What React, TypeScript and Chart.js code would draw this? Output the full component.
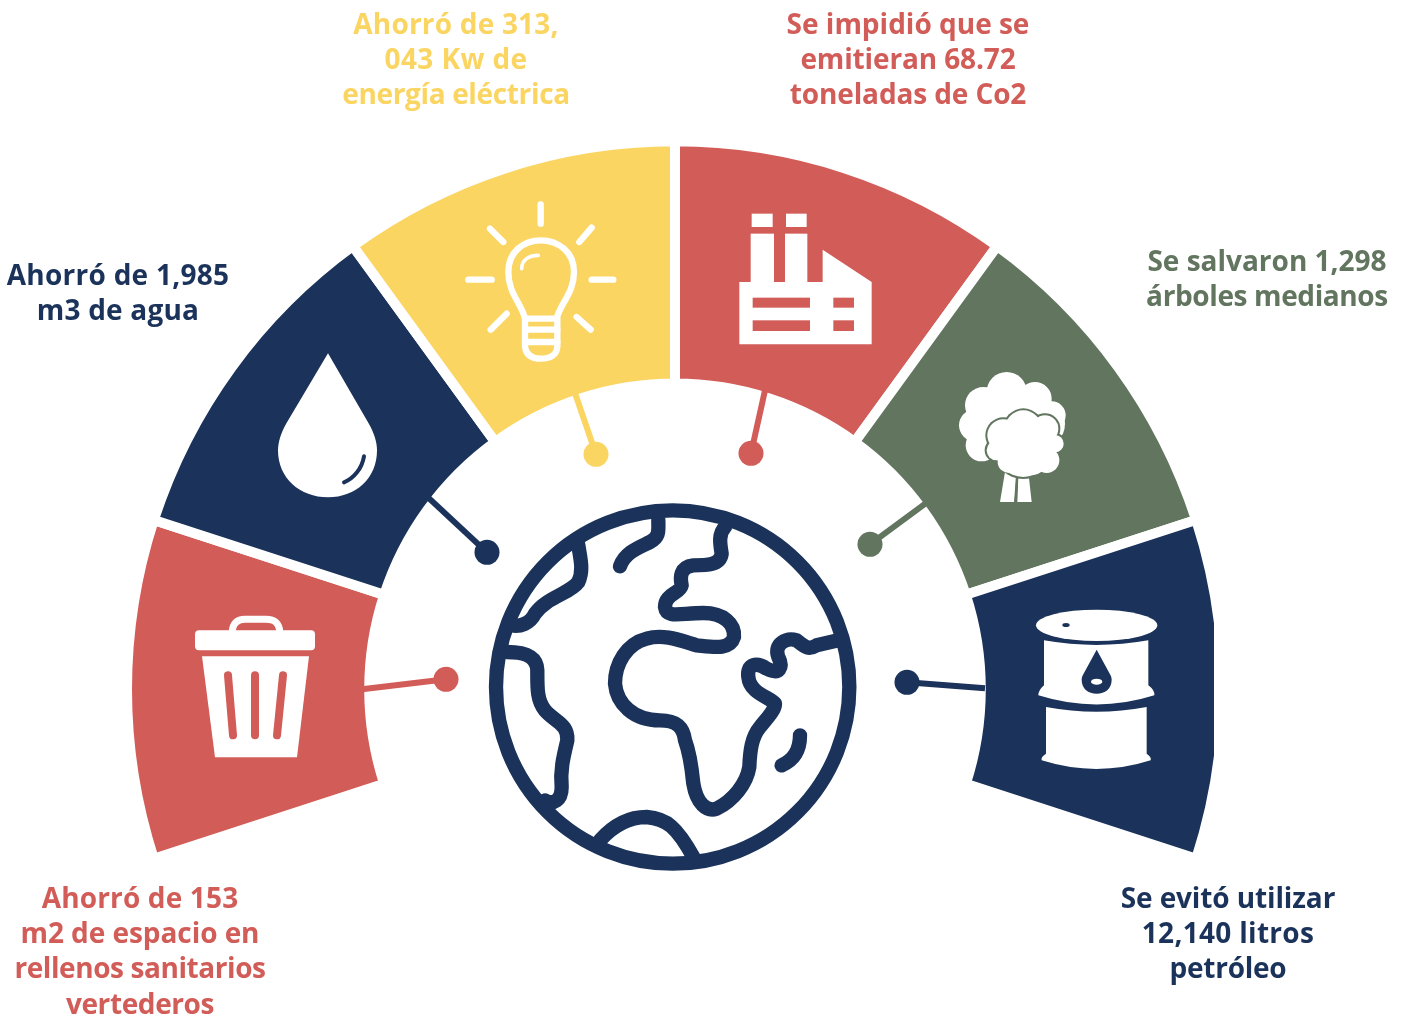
import React, { useEffect, useRef } from "react";
import { Chart, registerables } from "chart.js";

Chart.register(...registerables);

const segmentNames = ["Espacio en rellenos", "Agua", "Energía eléctrica", "Co2", "Árboles", "Petróleo"];
const segmentValues = [1, 1, 1, 1, 1, 1];
const RED = "#D25C58";
const NAVY = "#1B335A";
const YELLOW = "#FBD561";
const GREEN = "#61755F";
const segmentColors = [RED, NAVY, YELLOW, RED, GREEN, NAVY];

const labelLines = [
  ["Ahorró de 153", "m2 de espacio en", "rellenos sanitarios", "vertederos"],
  ["Ahorró de 1,985", "m3 de agua"],
  ["Ahorró de 313,", "043 Kw de", "energía eléctrica"],
  ["Se impidió que se", "emitieran 68.72", "toneladas de Co2"],
  ["Se salvaron 1,298", "árboles medianos"],
  ["Se evitó utilizar", "12,140 litros", "petróleo"],
];
const labelTracking = [
  [0.15, -0.06, -0.42, -0.4],
  [0.27, 0.2],
  [0.2, 0.4, -0.35],
  [0, -0.13, -0.12],
  [0, -0.38],
  [-0.12, 0.3, -0.25],
];
const labelCenters = [140, 118, 456, 908, 1267, 1228];
const labelTops = [880, 257, 6, 6, 243, 880];
const labelColors = [RED, NAVY, YELLOW, RED, GREEN, NAVY];

// connector start and dot end, in reference picture coordinates
const connectors = [
  [362, 689, 446, 679],
  [428, 497, 487, 552],
  [574, 390, 596, 454],
  [765, 390, 751, 453],
  [927, 502, 870, 544],
  [985, 688, 907, 682],
];

function line(ctx: CanvasRenderingContext2D, a: number, b: number, c: number, d: number) {
  ctx.beginPath();
  ctx.moveTo(a, b);
  ctx.lineTo(c, d);
  ctx.stroke();
}

function zoomed(ctx: CanvasRenderingContext2D, ox: number, oy: number, fn: () => void) {
  ctx.save();
  ctx.translate(ox, oy);
  ctx.scale(1 / 3, 1 / 3);
  fn();
  ctx.restore();
}

function drawGlobe(ctx: CanvasRenderingContext2D) {
  zoomed(ctx, 480, 490, () => {
    ctx.strokeStyle = NAVY;
    ctx.lineWidth = 43;
    ctx.lineCap = "round";
    ctx.lineJoin = "round";
    ctx.beginPath();
    ctx.arc(578, 590, 530, 0, Math.PI * 2);
    ctx.stroke();
    const paths = [
      "M295 165 C300 200 312 240 295 275 C270 310 200 320 165 370 C150 400 120 410 95 405",
      "M535 90 C535 120 540 140 510 155 C480 170 435 185 420 228",
      "M735 110 C715 130 720 160 725 190 C720 225 680 225 640 225 C600 230 600 260 605 285 C600 310 555 310 555 350 C560 385 600 368 670 368 C730 368 765 400 762 440 C750 480 700 470 650 465 C600 450 550 430 500 445 C440 460 405 520 405 580 C410 640 460 690 540 690 C590 690 610 710 615 750 C630 790 635 830 640 880 C650 940 680 965 710 955 C760 930 800 880 808 830 C810 780 815 740 840 710 C860 685 885 660 885 640 C870 620 810 610 805 560 C800 520 830 515 860 535 C900 555 910 530 895 500 C880 460 920 440 950 450 C975 470 985 480 1010 465 L1075 450",
      "M80 485 C120 485 170 490 172 540 C172 590 170 630 195 660 C225 695 265 700 262 750 C250 800 240 840 245 890 C245 930 220 945 195 930",
      "M905 825 C940 810 960 780 960 735",
      "M360 1050 C400 1005 450 980 500 980 C560 985 590 1010 640 1100",
    ];
    paths.forEach((p) => ctx.stroke(new Path2D(p)));
  });
}

function drawTrash(ctx: CanvasRenderingContext2D) {
  ctx.fillStyle = "#fff";
  ctx.beginPath();
  ctx.roundRect(195, 630, 120, 20, 4);
  ctx.fill();
  ctx.fill(new Path2D("M202 656 L309 656 L297 757 L215 757 Z"));
  ctx.strokeStyle = "#fff";
  ctx.lineWidth = 7;
  ctx.lineJoin = "round";
  ctx.stroke(new Path2D("M232 632 C233 622 238 619 245 619 L266 619 C274 619 279 622 280 632"));
  ctx.strokeStyle = RED;
  ctx.lineWidth = 8;
  ctx.lineCap = "round";
  line(ctx, 228, 675, 233, 735);
  line(ctx, 255, 675, 255, 735);
  line(ctx, 283, 675, 277, 735);
}

function drawDrop(ctx: CanvasRenderingContext2D) {
  ctx.fillStyle = "#fff";
  ctx.fill(new Path2D("M328 353 L287 422 C281 432 278 442 278 450 C278 478 300 497 328 497 C356 497 377 478 377 450 C377 442 374 432 368 422 Z"));
  ctx.strokeStyle = NAVY;
  ctx.lineWidth = 4;
  ctx.lineCap = "round";
  ctx.stroke(new Path2D("M364 456 C362 468 354 478 344 482"));
}

function drawBulb(ctx: CanvasRenderingContext2D) {
  zoomed(ctx, 450, 190, () => {
    ctx.strokeStyle = "#fff";
    ctx.lineWidth = 19;
    ctx.lineCap = "round";
    ctx.lineJoin = "round";
    [
      [272, 42, 272, 100],
      [120, 115, 160, 155],
      [425, 112, 388, 155],
      [55, 268, 125, 268],
      [425, 268, 490, 268],
      [170, 370, 122, 418],
      [380, 380, 422, 418],
    ].forEach((r) => line(ctx, r[0], r[1], r[2], r[3]));
    ctx.stroke(new Path2D("M225 385 C215 340 175 310 175 245 C175 185 220 150 272 150 C325 150 372 185 372 245 C372 310 330 340 320 385 Z"));
    ctx.stroke(new Path2D("M225 385 L225 470 Q230 505 272 505 Q318 505 322 470 L322 385"));
    line(ctx, 225, 418, 322, 418);
    line(ctx, 225, 455, 322, 455);
    ctx.lineWidth = 11;
    ctx.stroke(new Path2D("M215 235 C215 210 235 195 265 195"));
  });
}

function drawFactory(ctx: CanvasRenderingContext2D) {
  zoomed(ctx, 720, 200, () => {
    ctx.fillStyle = "#fff";
    ctx.fillRect(95, 40, 63, 40);
    ctx.fillRect(198, 40, 62, 40);
    ctx.fillRect(92, 100, 70, 145);
    ctx.fillRect(195, 100, 67, 145);
    ctx.fill(new Path2D("M58 245 L308 245 L308 148 L455 245 L455 432 L58 432 Z"));
    ctx.fillStyle = RED;
    ctx.fillRect(98, 292, 172, 30);
    ctx.fillRect(98, 360, 172, 32);
    ctx.fillRect(340, 292, 62, 30);
    ctx.fillRect(340, 360, 62, 32);
  });
}

function drawTree(ctx: CanvasRenderingContext2D) {
  const disc = (c: number[], extra: number) => {
    ctx.beginPath();
    ctx.arc(c[0], c[1], c[2] + extra, 0, Math.PI * 2);
    ctx.fill();
  };
  zoomed(ctx, 940, 360, () => {
    ctx.fillStyle = "#fff";
    [
      [200, 95, 60], [285, 115, 50], [335, 165, 42], [130, 135, 55], [105, 195, 48],
      [125, 255, 48], [200, 170, 105], [300, 190, 75],
    ].forEach((c) => disc(c, 0));
    ctx.fill(new Path2D("M195 335 L228 350 L222 425 L180 425 Z"));
    ctx.fill(new Path2D("M235 350 L265 335 L275 425 L232 425 Z"));
    const front = [
      [250, 205, 55], [190, 225, 48], [170, 270, 30], [315, 205, 40], [345, 250, 26],
      [320, 300, 38], [250, 265, 85], [205, 305, 32], [280, 305, 38],
    ];
    ctx.fillStyle = GREEN;
    front.forEach((c) => { if (c[1] < 280) disc(c, 6); });
    ctx.fillStyle = "#fff";
    front.forEach((c) => disc(c, 0));
    ctx.strokeStyle = GREEN;
    ctx.lineWidth = 6;
    line(ctx, 231, 350, 227, 425);
  });
}

function drawBarrel(ctx: CanvasRenderingContext2D) {
  zoomed(ctx, 1020, 590, () => {
    ctx.fillStyle = "#fff";
    ctx.beginPath();
    ctx.ellipse(230, 105, 182, 47, 0, 0, Math.PI * 2);
    ctx.fill();
    ctx.fill(new Path2D("M72 150 Q230 178 385 150 L385 285 Q405 300 403 315 Q230 370 55 315 Q55 300 72 285 Z"));
    ctx.fill(new Path2D("M78 350 Q230 378 380 350 L380 490 Q395 500 392 510 Q230 562 65 510 Q62 500 78 490 Z"));
    ctx.fillStyle = NAVY;
    ctx.beginPath();
    ctx.ellipse(138, 104, 11, 6, 0, 0, Math.PI * 2);
    ctx.fill();
    ctx.fill(new Path2D("M230 178 L192 248 C187 256 185 262 185 268 C185 295 205 310 230 310 C255 310 275 295 275 268 C275 262 273 256 268 248 Z"));
    ctx.fillStyle = "#fff";
    ctx.beginPath();
    ctx.ellipse(230, 274, 17, 9, 0, 0, Math.PI * 2);
    ctx.fill();
  });
}

const infographic = {
  id: "infographic",
  afterDatasetsDraw(chart: any) {
    const ctx: CanvasRenderingContext2D = chart.ctx;
    const arc = chart.getDatasetMeta(0).data[0];
    ctx.save();
    ctx.translate(arc.x - 675, arc.y - 689);
    connectors.forEach((c, i) => {
      ctx.strokeStyle = segmentColors[i];
      ctx.fillStyle = segmentColors[i];
      ctx.lineWidth = 6;
      line(ctx, c[0], c[1], c[2], c[3]);
      ctx.beginPath();
      ctx.arc(c[2], c[3], 12.5, 0, Math.PI * 2);
      ctx.fill();
    });
    [drawTrash, drawDrop, drawBulb, drawFactory, drawTree, drawBarrel, drawGlobe].forEach((fn) => {
      ctx.save();
      fn(ctx);
      ctx.restore();
    });
    ctx.restore();
  },
};

export default function App() {
  const ref = useRef<HTMLCanvasElement>(null);
  useEffect(() => {
    const chart = new Chart(ref.current as HTMLCanvasElement, {
      type: "doughnut",
      data: {
        labels: segmentNames,
        datasets: [{ data: segmentValues, backgroundColor: segmentColors, borderColor: "#ffffff", borderWidth: 10, borderAlign: "center", borderJoinStyle: "miter" }],
      },
      options: {
        responsive: false,
        animation: false,
        rotation: -108,
        circumference: 216,
        radius: 548,
        cutout: "55.8%",
        layout: { padding: { left: 136, bottom: 18 } },
        plugins: { legend: { display: false }, tooltip: { enabled: false } },
      },
      plugins: [infographic],
    } as any);
    return () => chart.destroy();
  }, []);
  return (
    <div style={{ position: "absolute", left: 0, top: 0, width: 1403, height: 1018, overflow: "hidden", background: "#fff" }}>
      <canvas ref={ref} width={1214} height={1018} style={{ position: "absolute", left: 0, top: 0, width: 1214, height: 1018 }} />
      {labelLines.map((lines, i) => (
        <div
          key={i}
          style={{
            position: "absolute",
            left: labelCenters[i] - 200,
            top: labelTops[i],
            width: 400,
            textAlign: "center",
            color: labelColors[i],
            font: "700 28px/35.2px 'Open Sans', sans-serif",
            whiteSpace: "nowrap",
          }}
        >
          {lines.map((t, j) => (
            <div key={j} style={{ letterSpacing: labelTracking[i][j] }}>{t}</div>
          ))}
        </div>
      ))}
    </div>
  );
}
